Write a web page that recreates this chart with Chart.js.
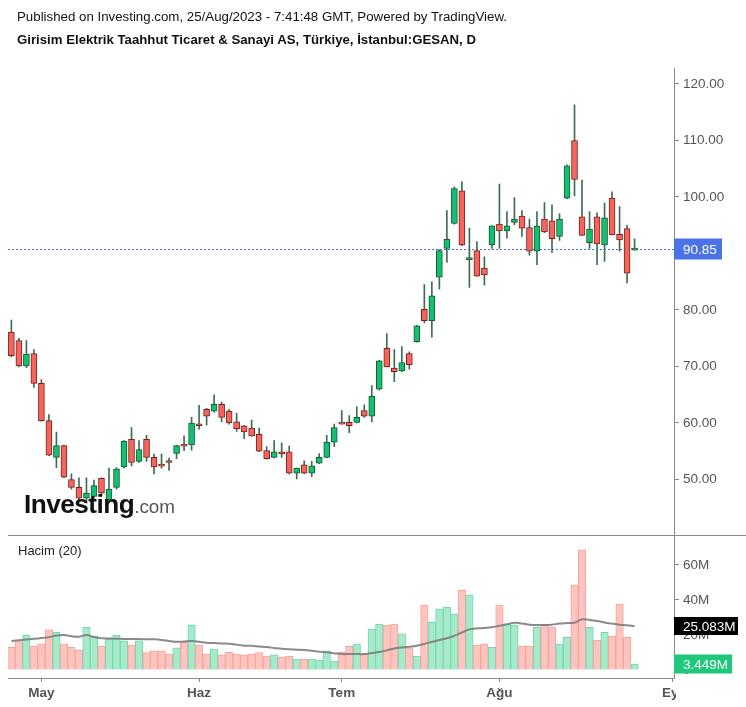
<!DOCTYPE html>
<html>
<head>
<meta charset="utf-8">
<script src="https://cdn.jsdelivr.net/npm/chart.js@4.4.1/dist/chart.umd.min.js"></script>
<style>
html,body{margin:0;padding:0;background:#fff;width:746px;height:707px;overflow:hidden;}
#wrap{position:relative;width:746px;height:707px;}
#c{position:absolute;left:0;top:0;}
.t{position:absolute;left:17px;white-space:nowrap;transform-origin:0 50%;font-family:"Liberation Sans",Arial,sans-serif;color:#111;line-height:13px;}
#t1{top:11px;font-size:12.5px;}
#t2{top:34px;font-size:12.5px;font-weight:bold;}
#hacim{position:absolute;left:18px;top:544px;font:13px/13px "Liberation Sans",Arial,sans-serif;color:#222;white-space:nowrap;}
#logo{position:absolute;left:24px;top:492px;line-height:24px;white-space:nowrap;transform-origin:0 50%;}
#logo .inv{font:bold 25px/24px "Liberation Sans",Arial,sans-serif;color:#111;letter-spacing:-0.5px;}
#logo .com{font:18px/24px "Liberation Sans",Arial,sans-serif;color:#555;}
</style>
</head>
<body>
<div id="wrap">
<canvas id="c" width="746" height="707"></canvas>
<div class="t" id="t1">Published on Investing.com, 25/Aug/2023 - 7:41:48 GMT, Powered by TradingView.</div>
<div class="t" id="t2">Girisim Elektrik Taahhut Ticaret &amp; Sanayi AS, Türkiye, İstanbul:GESAN, D</div>
<div id="hacim">Hacim (20)</div>
<div id="logo"><span class="inv">Investing</span><span class="com">.com</span></div>
</div>
<script>
// ---- data ----
const dates = [
 '2023-04-25','2023-04-26','2023-04-27','2023-04-28',
 '2023-05-02','2023-05-03','2023-05-04','2023-05-05','2023-05-08','2023-05-09','2023-05-10','2023-05-11','2023-05-12',
 '2023-05-15','2023-05-16','2023-05-17','2023-05-18','2023-05-22','2023-05-23','2023-05-24','2023-05-25','2023-05-26',
 '2023-05-29','2023-05-30','2023-05-31',
 '2023-06-01','2023-06-02','2023-06-05','2023-06-06','2023-06-07','2023-06-08','2023-06-09','2023-06-12','2023-06-13',
 '2023-06-14','2023-06-15','2023-06-16','2023-06-19','2023-06-20','2023-06-21','2023-06-22','2023-06-23','2023-06-26','2023-06-27',
 '2023-07-03','2023-07-04','2023-07-05','2023-07-06','2023-07-07','2023-07-10','2023-07-11','2023-07-12','2023-07-13','2023-07-14',
 '2023-07-17','2023-07-18','2023-07-19','2023-07-20','2023-07-21','2023-07-24','2023-07-25','2023-07-26','2023-07-27','2023-07-28','2023-07-31',
 '2023-08-01','2023-08-02','2023-08-03','2023-08-04','2023-08-07','2023-08-08','2023-08-09','2023-08-10','2023-08-11',
 '2023-08-14','2023-08-15','2023-08-16','2023-08-17','2023-08-18','2023-08-21','2023-08-22','2023-08-23','2023-08-24','2023-08-25'
];
const openP = [76.1,74.6,70.1,72.3,67.0,60.4,53.9,56.0,50.0,48.6, 46.7,47.0,50.2,46.4,48.6,52.2,57.1,53.2,57.1,53.9,
 52.65,53.2,54.6,56.1,56.1,59.8,62.4,62.1,63.3,62.1, 60.2,59.5,59.1,58.0,55.1,53.9,54.9,54.9,51.1,52.6,
 51.1,52.9,53.9,56.6,60.1,60.1,60.1,62.2,61.2,66.0, 73.2,69.7,69.2,72.3,74.4,80.1,78.1,85.8,90.9,95.3,
 101.1,88.9,90.5,87.4,91.5,95.2,94.0,95.5,96.6,94.6, 90.4,96.1,95.8,93.0,99.8,110.0,96.5,91.9,96.5,91.5,
 99.8,93.4,94.4,90.6];
const highP = [78.2,75.0,74.6,73.0,67.7,61.5,58.4,56.1,51.0,50.3, 50.3,49.9,50.3,52.0,52.1,56.9,59.2,56.9,57.8,54.5,
 54.5,53.8,56.1,57.7,61.0,63.1,62.6,65.0,63.7,62.4, 61.7,59.6,60.5,59.1,55.8,56.9,56.5,55.9,52.0,53.3,
 53.2,54.6,57.8,59.8,62.2,61.3,62.9,63.2,66.6,71.1, 75.8,73.0,73.5,72.6,77.3,84.5,85.0,90.7,97.6,101.8,
 102.7,94.5,92.1,89.4,94.9,102.3,97.4,99.9,97.6,96.1, 97.4,99.0,98.6,97.0,105.7,116.3,103.0,97.4,97.2,98.9,
 100.9,98.3,95.0,92.6];
const lowP = [71.7,69.9,69.8,66.3,60.3,54.2,52.1,50.3,48.3,46.0, 45.8,46.5,47.0,46.0,48.3,52.0,52.4,53.0,53.2,51.0,
 52.0,51.6,53.7,55.1,55.2,58.9,59.6,61.9,60.2,59.8, 58.5,57.2,57.6,54.9,53.6,53.8,53.9,51.0,50.1,51.0,
 50.5,52.8,53.8,55.8,59.8,58.3,60.0,61.0,60.2,65.8, 69.9,67.3,69.1,69.5,74.3,77.7,75.2,83.7,88.4,95.2,
 91.4,84.0,86.0,84.4,90.9,90.9,92.7,95.1,93.0,89.7, 88.0,93.7,90.2,92.3,99.7,100.2,93.2,90.9,88.0,88.6,
 93.3,90.4,84.8,90.6];
const closeP = [71.9,70.1,72.2,67.0,60.4,54.3,56.0,50.4,48.6,46.7, 47.6,48.9,47.6,48.3,51.9,56.8,53.0,55.3,53.9,52.2,
 52.35,53.0,56.0,55.9,60.0,59.5,61.2,63.3,61.0,60.0, 59.0,58.4,57.7,55.0,53.7,54.9,54.5,51.1,52.0,51.1,
 52.4,53.9,56.6,59.2,59.8,59.5,61.0,61.2,64.7,71.0, 69.9,69.1,70.7,70.3,77.2,78.1,82.5,90.5,92.5,101.5,
 91.5,89.2,86.0,86.2,94.9,94.0,94.9,96.1,94.5,90.4, 94.9,93.8,92.6,96.1,105.5,103.1,93.2,94.3,91.7,96.3,
 93.3,92.4,86.5,90.85];
// volume in millions
const volumeM = [13.0,16.2,19.8,13.7,14.9,22.9,21.5,14.9,13.0,11.4, 24.4,19.4,13.7,17.7,19.8,16.6,14.3,16.6,9.9,10.9,
 10.9,9.1,12.7,15.8,25.7,14.3,9.1,12.0,8.6,10.1, 9.1,8.6,9.1,9.9,8.0,8.6,7.3,8.0,6.3,6.3,
 6.3,5.7,10.9,5.1,10.1,13.7,14.9,9.1,23.4,26.3, 25.7,26.3,20.6,12.7,8.0,37.1,27.3,34.9,35.8,32.0,
 45.7,42.9,14.3,14.9,13.0,37.1,26.1,25.7,13.7,13.7, 24.4,26.3,24.4,14.9,18.7,48.6,68.6,24.4,17.1,21.5,
 19.4,37.7,18.7,3.449];
const volumeMA20 = [16.5,17.0,17.4,17.8,18.3,18.7,19.7,20.0,19.3,19.0, 20.0,18.8,18.1,18.0,17.9,17.7,17.7,17.7,17.6,17.5,
 17.2,16.6,16.1,16.3,16.5,16.1,15.6,15.4,15.2,15.0, 14.5,13.9,13.8,13.4,13.1,12.6,12.1,11.8,11.6,11.4,
 11.0,10.5,10.1,9.6,9.1,9.1,9.1,9.1,9.7,10.3, 11.2,12.3,12.8,13.3,13.9,14.9,16.1,17.1,18.1,19.6,
 21.4,23.2,23.8,24.0,24.4,25.3,26.1,27.0,26.6,25.9, 25.7,25.7,25.9,26.5,26.8,27.0,29.0,28.6,28.0,27.2,
 26.5,25.9,25.6,25.083];
const priceTicks = [50,60,70,80,90,100,110,120];
const volumeTicks = [0,20,40,60];
const monthTickIndex = [4,25,44,65,88];
const monthTickLabels = ['May','Haz','Tem','Ağu','Eyl'];
const lastPrice = 90.85;
const lastVolumeLabel = '3.449M';
const lastVolume = 3.449;
const lastVolumeMALabel = '25.083M';
const lastVolumeMA = 25.083;

// ---- text fitting ----
function fitText(id, w){ const el=document.getElementById(id); el.style.transform='none'; const r=el.getBoundingClientRect().width; el.style.transform='scaleX('+(w/r)+')'; }
fitText('t1', 490); fitText('t2', 459); fitText('logo', 151);

// ---- chart ----
const FONT = '"Liberation Sans", Arial, sans-serif';
const idx = dates.map((d,i)=>i);
const up = idx.map(i => closeP[i] >= openP[i]);
const GREEN='#12c06e', GREEN_B='#16583a', RED='#f4665c', RED_B='#7a1f1f', WICK='#3f6c53';

const overlay = {
  id:'overlay',
  beforeDatasetsDraw(chart){
    const {ctx, chartArea:a, scales} = chart;
    const y = Math.round(scales.y.getPixelForValue(lastPrice))+0.5;
    ctx.save(); ctx.strokeStyle='#3d6ee8'; ctx.lineWidth=1; ctx.setLineDash([2,2]);
    ctx.beginPath(); ctx.moveTo(a.left,y); ctx.lineTo(a.right,y); ctx.stroke(); ctx.restore();
  },
  afterDraw(chart){
    const {ctx, chartArea:a, scales} = chart;
    ctx.save();
    const sy = Math.round(scales.y2.top)+0.5;
    ctx.strokeStyle='#8a8a8a'; ctx.lineWidth=1;
    ctx.beginPath(); ctx.moveTo(a.left,sy); ctx.lineTo(746,sy); ctx.stroke();
    ctx.font='13.5px '+FONT; ctx.textBaseline='middle'; ctx.textAlign='left';
    const box=(val,scale,txt,bg,w,h)=>{
      const yc=Math.round(scale.getPixelForValue(val));
      ctx.fillStyle=bg; ctx.fillRect(a.right, yc-h/2, w, h);
      ctx.fillStyle='#fff'; ctx.fillText(txt, a.right+9, yc+1);
    };
    box(lastPrice, scales.y, lastPrice.toFixed(2), '#4a73e7', 48, 21);
    box(lastVolumeMA, scales.y2, lastVolumeMALabel, '#000', 64, 18);
    box(lastVolume, scales.y2, lastVolumeLabel, '#1fc87a', 58, 19);
    ctx.beginPath(); ctx.rect(0, a.bottom+1, a.right+2, 707-a.bottom); ctx.clip();
    ctx.font='bold 13.5px '+FONT; ctx.fillStyle='#555'; ctx.textAlign='center'; ctx.textBaseline='alphabetic';
    monthTickIndex.forEach((v,k)=>{ ctx.fillText(monthTickLabels[k], scales.x.getPixelForValue(v), 697); });
    ctx.restore();
  }
};

new Chart(document.getElementById('c'), {
  type:'bar',
  data:{
    datasets:[
      { type:'bar', label:'body', yAxisID:'y', grouped:false, order:0,
        data: idx.map(i=>({x:i, y:[openP[i], closeP[i]]})),
        backgroundColor: idx.map(i=>up[i]?GREEN:RED), borderColor: idx.map(i=>up[i]?GREEN_B:RED_B),
        borderWidth:1, borderSkipped:false, barThickness:6, minBarLength:2 },
      { type:'bar', label:'wick', yAxisID:'y', grouped:false, order:1,
        data: idx.map(i=>({x:i, y:[lowP[i], highP[i]]})),
        backgroundColor: WICK, borderWidth:0, barThickness:1 },
      { type:'line', label:'Hacim MA', yAxisID:'y2', order:0,
        data: idx.map(i=>({x:i, y:volumeMA20[i]})),
        borderColor:'rgba(125,125,125,0.9)', borderWidth:2, pointRadius:0, tension:0.35, fill:false },
      { type:'bar', label:'Hacim', yAxisID:'y2', grouped:false, order:2,
        data: idx.map(i=>({x:i, y:volumeM[i]})),
        backgroundColor: idx.map(i=>up[i]?'#a7eacb':'#fdc4c0'), borderColor: idx.map(i=>up[i]?'#6fdaa7':'#f8a29b'),
        borderWidth:1, barPercentage:1, categoryPercentage:1 }
    ]
  },
  options:{
    responsive:false, animation:false, devicePixelRatio:1,
    layout:{padding:{left:8, top:68, right:0, bottom:0}},
    plugins:{legend:{display:false}, tooltip:{enabled:false}},
    scales:{
      x:{ type:'linear', min:-0.45, max:88.25, offset:false,
          afterBuildTicks:s=>{ s.ticks = monthTickIndex.map(v=>({value:v})); },
          ticks:{display:false},
          grid:{drawOnChartArea:false, drawTicks:true, tickLength:4, color:'#8a8a8a', offset:false},
          border:{display:true, color:'#8a8a8a', width:1},
          afterFit:s=>{ s.height = 29; } },
      y:{ type:'linear', position:'right', stack:'panes', stackWeight:466, min:40.21, max:122.83,
          afterBuildTicks:s=>{ s.ticks = priceTicks.map(v=>({value:v})); },
          ticks:{ callback:v=>Number(v).toFixed(2), font:{family:FONT, size:13.5}, color:'#555', padding:4 },
          grid:{drawOnChartArea:false, drawTicks:true, tickLength:5, color:'#8a8a8a'},
          border:{display:true, color:'#8a8a8a', width:1},
          afterFit:s=>{ s.width = 72; } },
      y2:{ type:'linear', position:'right', stack:'panes', stackWeight:143, min:-4.57, max:77.26,
          afterBuildTicks:s=>{ s.ticks = volumeTicks.map(v=>({value:v})); },
          ticks:{ callback:v=> v===0 ? '0' : v+'M', font:{family:FONT, size:13.5}, color:'#555', padding:4 },
          grid:{drawOnChartArea:false, drawTicks:true, tickLength:5, color:'#8a8a8a'},
          border:{display:true, color:'#8a8a8a', width:1},
          afterFit:s=>{ s.width = 72; } }
    }
  },
  plugins:[overlay]
});
</script>
</body>
</html>
